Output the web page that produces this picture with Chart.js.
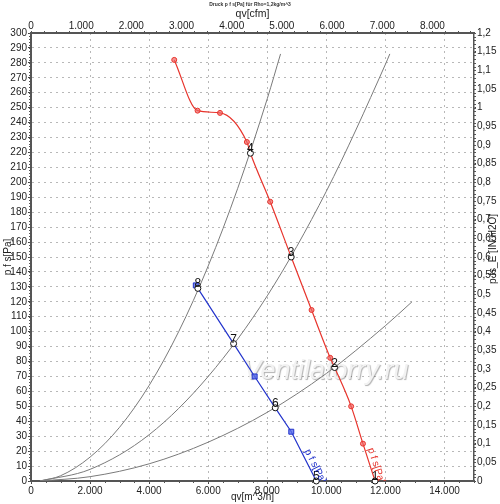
<!DOCTYPE html>
<html lang="de">
<head>
    <meta charset="UTF-8">
    <meta name="viewport" content="width=device-width, initial-scale=1.0">
    <title>Druck p f s[Pa]</title>
    <script src="https://cdn.jsdelivr.net/npm/chart.js"></script>
    <style>
        html, body { margin: 0; padding: 0; background: #fff; }
        #wrap { width: 500px; height: 504px; position: relative; }
    </style>
</head>
<body>
    <div id="wrap"><canvas id="kennlinie"></canvas></div>

    <script>
        // Ventilatorkennlinie p f s[Pa] (rot)
        const kennlinieQv  = [4850, 5640, 6400, 7310, 7430, 8100, 8810, 9500, 10130, 10280, 10840, 11240, 11650];
        const kennliniePfs = [282, 248, 246.5, 227, 219.5, 187, 150, 114.5, 82.5, 76, 50, 25, 0];
        const kennlinieMarkQv  = [4850, 5640, 6400, 7310, 8100, 9500, 10130, 10840, 11240];
        const kennlinieMarkPfs = [282, 248, 246.5, 227, 187, 114.5, 82.5, 50, 25];

        // zweite Kennlinie (blau)
        const blauQv  = [5580, 5650, 6860, 7573, 8270, 8813, 9660];
        const blauPfs = [131, 129, 92, 70, 49, 33, 0];
        const blauMarkQv  = [5580, 7573, 8813];
        const blauMarkPfs = [131, 70, 33];

        // Anlagenkennlinien (grau)
        const anlageAQv  = [300, 1000, 2000, 3000, 4000, 5000, 6000, 7000, 8000, 8450];
        const anlageAPfs = [0, 3.5, 16, 36, 64, 100, 144, 196, 256, 286];
        const anlageBQv  = [300, 2000, 4000, 6000, 8000, 10000, 12000, 12150];
        const anlageBPfs = [0, 7.8, 31, 70, 124, 194, 279, 286];
        const anlageCQv  = [300, 2000, 4000, 6000, 8000, 10000, 12000, 12900];
        const anlageCPfs = [0, 2.9, 11.5, 26, 46, 72, 104, 120];

        // Betriebspunkte
        const punktNr  = ['1', '2', '3', '4', '5', '6', '7', '8'];
        const punktQv  = [11650, 10280, 8810, 7430, 9660, 8270, 6860, 5650];
        const punktPfs = [0, 76, 150, 219.5, 0, 49, 92, 129];

        // Achsen und Teilstriche
        const qvMax = 15000;
        const pMax = 300;
        const cfmFaktor = 1.699;   // m^3/h pro cfm
        const inH2OMax = 1.2;
        const qvTicks  = [0, 2000, 4000, 6000, 8000, 10000, 12000, 14000];
        const cfmTicks = [0, 1000, 2000, 3000, 4000, 5000, 6000, 7000, 8000];

        const schrift = { family: '"Liberation Sans", Arial, sans-serif', size: 10 };
        const textFarbe = '#222';

        function punkte(xs, ys) {
            return xs.map((x, i) => ({ x: x, y: ys[i] }));
        }
        function tausender(v) {
            return String(Math.round(v)).replace(/\B(?=(\d{3})+(?!\d))/g, '.');
        }

        const zusatz = {
            id: 'zusatz',
            beforeDatasetsDraw(chart) {
                const { ctx, chartArea } = chart;
                ctx.save();
                ctx.font = 'italic 27px "Liberation Sans", Arial, sans-serif';
                ctx.textAlign = 'center';
                ctx.textBaseline = 'middle';
                ctx.shadowColor = 'rgba(0,0,0,0.3)';
                ctx.shadowOffsetX = 1;
                ctx.shadowOffsetY = 1;
                ctx.shadowBlur = 1;
                ctx.fillStyle = '#f2f2f2';
                ctx.fillText('Ventilatorry.ru', chartArea.left + 295, chartArea.top + 338);
                ctx.restore();
            },
            afterDatasetsDraw(chart) {
                const { ctx, chartArea } = chart;
                const x = chart.scales.x, y = chart.scales.y;

                // Nummern der Betriebspunkte
                ctx.save();
                ctx.font = '12px "Liberation Sans", Arial, sans-serif';
                ctx.fillStyle = '#111';
                ctx.textAlign = 'center';
                ctx.textBaseline = 'alphabetic';
                punktNr.forEach((nr, i) => {
                    ctx.fillText(nr, x.getPixelForValue(punktQv[i]), y.getPixelForValue(punktPfs[i]) - 1);
                });
                ctx.restore();

                // Beschriftung entlang der Kennlinien
                function kurvenText(qs, ps, i, t, farbe) {
                    const ax = x.getPixelForValue(qs[i]), ay = y.getPixelForValue(ps[i]);
                    const bx = x.getPixelForValue(qs[i + 1]), by = y.getPixelForValue(ps[i + 1]);
                    const w = Math.atan2(by - ay, bx - ax);
                    const px = ax + (bx - ax) * t + Math.sin(w) * 3;
                    const py = ay + (by - ay) * t - Math.cos(w) * 3;
                    ctx.save();
                    ctx.beginPath();
                    ctx.rect(chartArea.left, chartArea.top, chartArea.right - chartArea.left, chartArea.bottom - chartArea.top);
                    ctx.clip();
                    ctx.translate(px, py);
                    ctx.rotate(w);
                    ctx.font = '10px "Liberation Sans", Arial, sans-serif';
                    ctx.fillStyle = farbe;
                    ctx.textBaseline = 'alphabetic';
                    ctx.fillText('p f s[Pa]', 0, 0);
                    ctx.restore();
                }
                kurvenText(blauQv, blauPfs, 5, 0.42, '#2233cc');
                kurvenText(kennlinieQv, kennliniePfs, 11, 0.17, '#e8342c');
            },
            afterDraw(chart) {
                const { ctx, chartArea } = chart;
                const { x, y, xTop, yRight } = chart.scales;
                ctx.save();
                ctx.strokeStyle = '#555';
                ctx.lineWidth = 1;
                ctx.beginPath();
                for (let v = 0; v <= pMax; v += 2) {
                    const py = Math.round(y.getPixelForValue(v)) + 0.5;
                    ctx.moveTo(chartArea.left - 2, py);
                    ctx.lineTo(chartArea.left, py);
                }
                for (let v = 0; v <= inH2OMax + 0.001; v += 0.01) {
                    const py = Math.round(yRight.getPixelForValue(v)) + 0.5;
                    ctx.moveTo(chartArea.right, py);
                    ctx.lineTo(chartArea.right + 2, py);
                }
                for (let v = 0; v <= qvMax; v += 500) {
                    const px = Math.round(x.getPixelForValue(v)) + 0.5;
                    ctx.moveTo(px, chartArea.bottom);
                    ctx.lineTo(px, chartArea.bottom + 2);
                }
                for (let v = 0; v <= qvMax / cfmFaktor; v += 250) {
                    const px = Math.round(xTop.getPixelForValue(v)) + 0.5;
                    ctx.moveTo(px, chartArea.top - 2);
                    ctx.lineTo(px, chartArea.top);
                }
                ctx.stroke();

                // Titel der rechten Achse
                ctx.translate(493, (chartArea.top + chartArea.bottom) / 2 - 8);
                ctx.rotate(-Math.PI / 2);
                ctx.font = '10px "Liberation Sans", Arial, sans-serif';
                ctx.fillStyle = textFarbe;
                ctx.textAlign = 'center';
                ctx.textBaseline = 'middle';
                ctx.fillText('p fs_E [IN H2O]', 0, 0);
                ctx.restore();
            }
        };

        const datensaetze = [
            {
                label: 'Betriebspunkte',
                data: punkte(punktQv, punktPfs),
                pointStyle: 'circle',
                pointRadius: 3,
                pointBackgroundColor: '#fff',
                pointBorderColor: '#111',
                pointBorderWidth: 1,
                showLine: false,
                clip: false,
                order: 0
            },
            {
                label: 'Messpunkte rot',
                data: punkte(kennlinieMarkQv, kennlinieMarkPfs),
                pointStyle: 'circle',
                pointRadius: 2.5,
                pointBackgroundColor: 'rgba(240,100,100,0.7)',
                pointBorderColor: '#e8342c',
                showLine: false,
                order: 1
            },
            {
                label: 'Messpunkte blau',
                data: punkte(blauMarkQv, blauMarkPfs),
                pointStyle: 'rect',
                pointRadius: 3.5,
                pointBackgroundColor: 'rgba(90,110,235,0.8)',
                pointBorderColor: '#2233cc',
                showLine: false,
                order: 2
            },
            {
                label: 'p f s[Pa]',
                data: punkte(kennlinieQv, kennliniePfs),
                borderColor: '#e8342c',
                borderWidth: 1.2,
                pointRadius: 0,
                showLine: true,
                cubicInterpolationMode: 'monotone',
                order: 3
            },
            {
                label: 'p f s[Pa] blau',
                data: punkte(blauQv, blauPfs),
                borderColor: '#2233cc',
                borderWidth: 1.2,
                pointRadius: 0,
                showLine: true,
                order: 4
            },
            {
                label: 'Anlage A',
                data: punkte(anlageAQv, anlageAPfs),
                borderColor: '#7a7a7a',
                borderWidth: 1,
                pointRadius: 0,
                showLine: true,
                cubicInterpolationMode: 'monotone',
                order: 5
            },
            {
                label: 'Anlage B',
                data: punkte(anlageBQv, anlageBPfs),
                borderColor: '#7a7a7a',
                borderWidth: 1,
                pointRadius: 0,
                showLine: true,
                cubicInterpolationMode: 'monotone',
                order: 6
            },
            {
                label: 'Anlage C',
                data: punkte(anlageCQv, anlageCPfs),
                borderColor: '#7a7a7a',
                borderWidth: 1,
                pointRadius: 0,
                showLine: true,
                cubicInterpolationMode: 'monotone',
                order: 7
            }
        ];

        const gitter = { color: '#b8b8b8', lineWidth: 1, tickLength: 3, tickColor: '#444' };
        const rand = { display: true, color: '#555', width: 2, dash: [2, 4] };

        new Chart(document.getElementById('kennlinie'), {
            type: 'scatter',
            data: { datasets: datensaetze },
            plugins: [zusatz],
            options: {
                responsive: true,
                maintainAspectRatio: false,
                animation: false,
                layout: { padding: 0 },
                plugins: {
                    legend: { display: false },
                    tooltip: { enabled: false },
                    title: {
                        display: true,
                        text: 'Druck p f s[Pa] für Rho=1,2kg/m^3',
                        font: { family: schrift.family, size: 5 },
                        color: '#333',
                        padding: { top: 2, bottom: 0 }
                    }
                },
                scales: {
                    x: {
                        type: 'linear',
                        position: 'bottom',
                        min: 0,
                        max: qvMax,
                        ticks: { callback: tausender, font: schrift, color: textFarbe, padding: 1, maxRotation: 0, autoSkip: false },
                        afterBuildTicks: s => { s.ticks = qvTicks.map(v => ({ value: v })); },
                        grid: gitter,
                        border: rand,
                        title: { display: true, text: 'qv[m^3/h]', font: schrift, color: textFarbe, padding: { top: 0, bottom: 1 } },
                        afterFit: s => { s.height = 23; }
                    },
                    xTop: {
                        type: 'linear',
                        axis: 'x',
                        position: 'top',
                        min: 0,
                        max: qvMax / cfmFaktor,
                        ticks: { callback: tausender, font: schrift, color: textFarbe, padding: 0, maxRotation: 0, autoSkip: false },
                        afterBuildTicks: s => { s.ticks = cfmTicks.map(v => ({ value: v })); },
                        grid: { drawOnChartArea: false, tickLength: 1, tickColor: '#444' },
                        border: { display: true, color: '#555', width: 2 },
                        title: { display: true, text: 'qv[cfm]', font: { family: schrift.family, size: 10.5 }, color: textFarbe, padding: { top: 0, bottom: 0 } },
                        afterFit: s => { s.height = 25; }
                    },
                    y: {
                        type: 'linear',
                        position: 'left',
                        min: 0,
                        max: pMax,
                        ticks: { stepSize: 10, font: schrift, color: textFarbe, padding: 1, autoSkip: false },
                        grid: gitter,
                        border: rand,
                        title: { display: true, text: 'p f s[Pa]', font: schrift, color: textFarbe, padding: { top: 2, bottom: 0 } },
                        afterFit: s => { s.width = 31; }
                    },
                    yRight: {
                        type: 'linear',
                        axis: 'y',
                        position: 'right',
                        min: 0,
                        max: inH2OMax,
                        ticks: {
                            stepSize: 0.05,
                            font: schrift,
                            color: textFarbe,
                            padding: 1,
                            autoSkip: false,
                            callback: v => String(Number(v.toFixed(2))).replace('.', ',')
                        },
                        grid: { drawOnChartArea: false, tickLength: 2, tickColor: '#444' },
                        border: { display: true, color: '#555', width: 1.5 },
                        afterFit: s => { s.width = 26; }
                    }
                }
            }
        });
    </script>
</body>
</html>
